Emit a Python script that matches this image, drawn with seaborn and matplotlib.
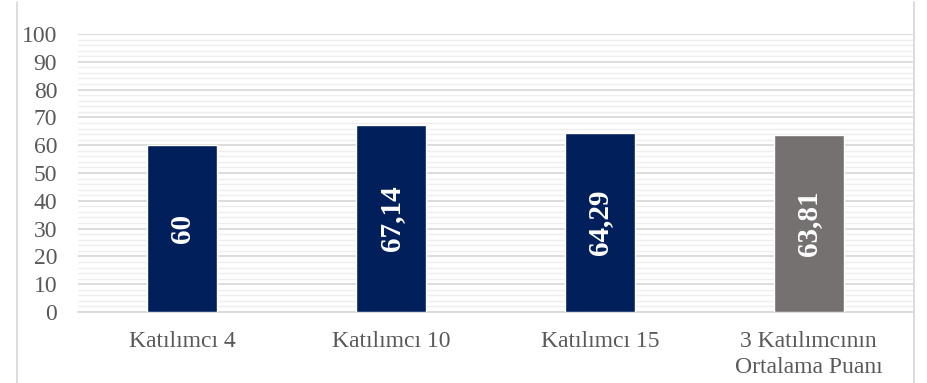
import matplotlib
matplotlib.use("Agg")
import matplotlib.pyplot as plt
from matplotlib.lines import Line2D
from matplotlib.ticker import MultipleLocator
import seaborn as sns
import pandas as pd

categories = ["Katılımcı 4", "Katılımcı 10", "Katılımcı 15", "3 Katılımcının\nOrtalama Puanı"]
scores = [60, 67.14, 64.29, 63.81]
score_labels = ["60", "67,14", "64,29", "63,81"]
bar_colors = ["#001F5B", "#001F5B", "#001F5B", "#767171"]
y_ticks = [0, 10, 20, 30, 40, 50, 60, 70, 80, 90, 100]

sns.set_theme(style="white")
plt.rcParams["font.family"] = ["Liberation Serif", "DejaVu Serif"]

df = pd.DataFrame({"cat": categories, "score": scores})

fig = plt.figure(figsize=(9.27, 3.83), dpi=100)
ax = fig.add_axes([0.0841, 0.1854, 0.9009, 0.7258])

sns.barplot(data=df, x="cat", y="score", hue="cat", palette=bar_colors,
            width=0.335, legend=False, ax=ax, saturation=1, zorder=3)

ax.set_xlim(-0.5, 3.5)
ax.set_ylim(0, 100)
ax.set_yticks(y_ticks)
ax.yaxis.set_minor_locator(MultipleLocator(2))
ax.grid(axis="y", which="major", color="#D9D9D9", linewidth=1.3, zorder=0)
ax.grid(axis="y", which="minor", color="#EEEEEE", linewidth=1.0, zorder=0)
ax.set_axisbelow(True)
for s in ["top", "right", "left"]:
    ax.spines[s].set_visible(False)
ax.spines["bottom"].set_color("#D9D9D9")
ax.spines["bottom"].set_linewidth(1.3)
ax.tick_params(axis="both", which="both", length=0, labelsize=17, colors="#595959")
ax.tick_params(axis="x", pad=14)
ax.tick_params(axis="y", pad=15)
for t in ax.get_xticklabels():
    t.set_linespacing(1.3)
ax.set_xlabel("")
ax.set_ylabel("")

for i, (v, lab) in enumerate(zip(scores, score_labels)):
    ax.text(i, v / 2, lab, rotation=90, ha="center", va="center",
            color="white", fontsize=21, fontweight="bold", zorder=5)

# outer chart frame on the left and right
fig.add_artist(Line2D([17 / 927, 17 / 927], [0, 1 - 2 / 383], transform=fig.transFigure,
                      color="#D9D9D9", linewidth=1.3))
fig.add_artist(Line2D([914 / 927, 914 / 927], [0, 1 - 2 / 383], transform=fig.transFigure,
                      color="#D9D9D9", linewidth=1.3))

fig.savefig("out.png", dpi=100)
